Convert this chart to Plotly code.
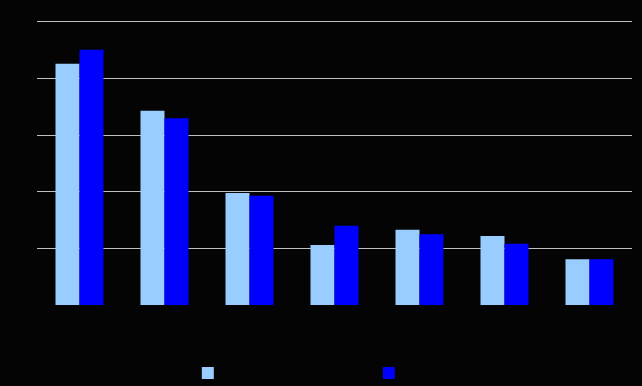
import plotly.graph_objects as go

categories = ["A", "B", "C", "D", "E", "F", "G"]
series1_name = "Series 1"
series2_name = "Series 2"
series1 = [4.26, 3.43, 1.98, 1.06, 1.33, 1.22, 0.81]
series2 = [4.51, 3.30, 1.93, 1.40, 1.25, 1.08, 0.81]

fig = go.Figure()
fig.add_trace(go.Bar(x=categories, y=series1, name=series1_name, marker_color="#99CCFF", marker_line_width=0))
fig.add_trace(go.Bar(x=categories, y=series2, name=series2_name, marker_color="#0000FF", marker_line_width=0))

fig.update_layout(
    width=642, height=386,
    paper_bgcolor="#040404", plot_bgcolor="#040404",
    margin=dict(l=37, r=10, t=20, b=81, autoexpand=False),
    barmode="group", bargap=0.435, bargroupgap=0,
    font=dict(family="Liberation Sans", size=12, color="#040404"),
    showlegend=True,
    legend=dict(orientation="h", x=0.2535, xanchor="left", yref="container", y=0.0712, yanchor="top",
                entrywidth=136, entrywidthmode="pixels", bgcolor="rgba(0,0,0,0)"),
    xaxis=dict(showgrid=False, showline=False, zeroline=False, ticks="", tickfont=dict(color="#040404")),
    yaxis=dict(range=[0, 5.035], tickvals=[1, 2, 3, 4, 5], showgrid=True, gridcolor="#C0C0C0", gridwidth=1,
               zeroline=False, showline=False, tickfont=dict(color="#040404")),
)
fig.write_html("out.html")
